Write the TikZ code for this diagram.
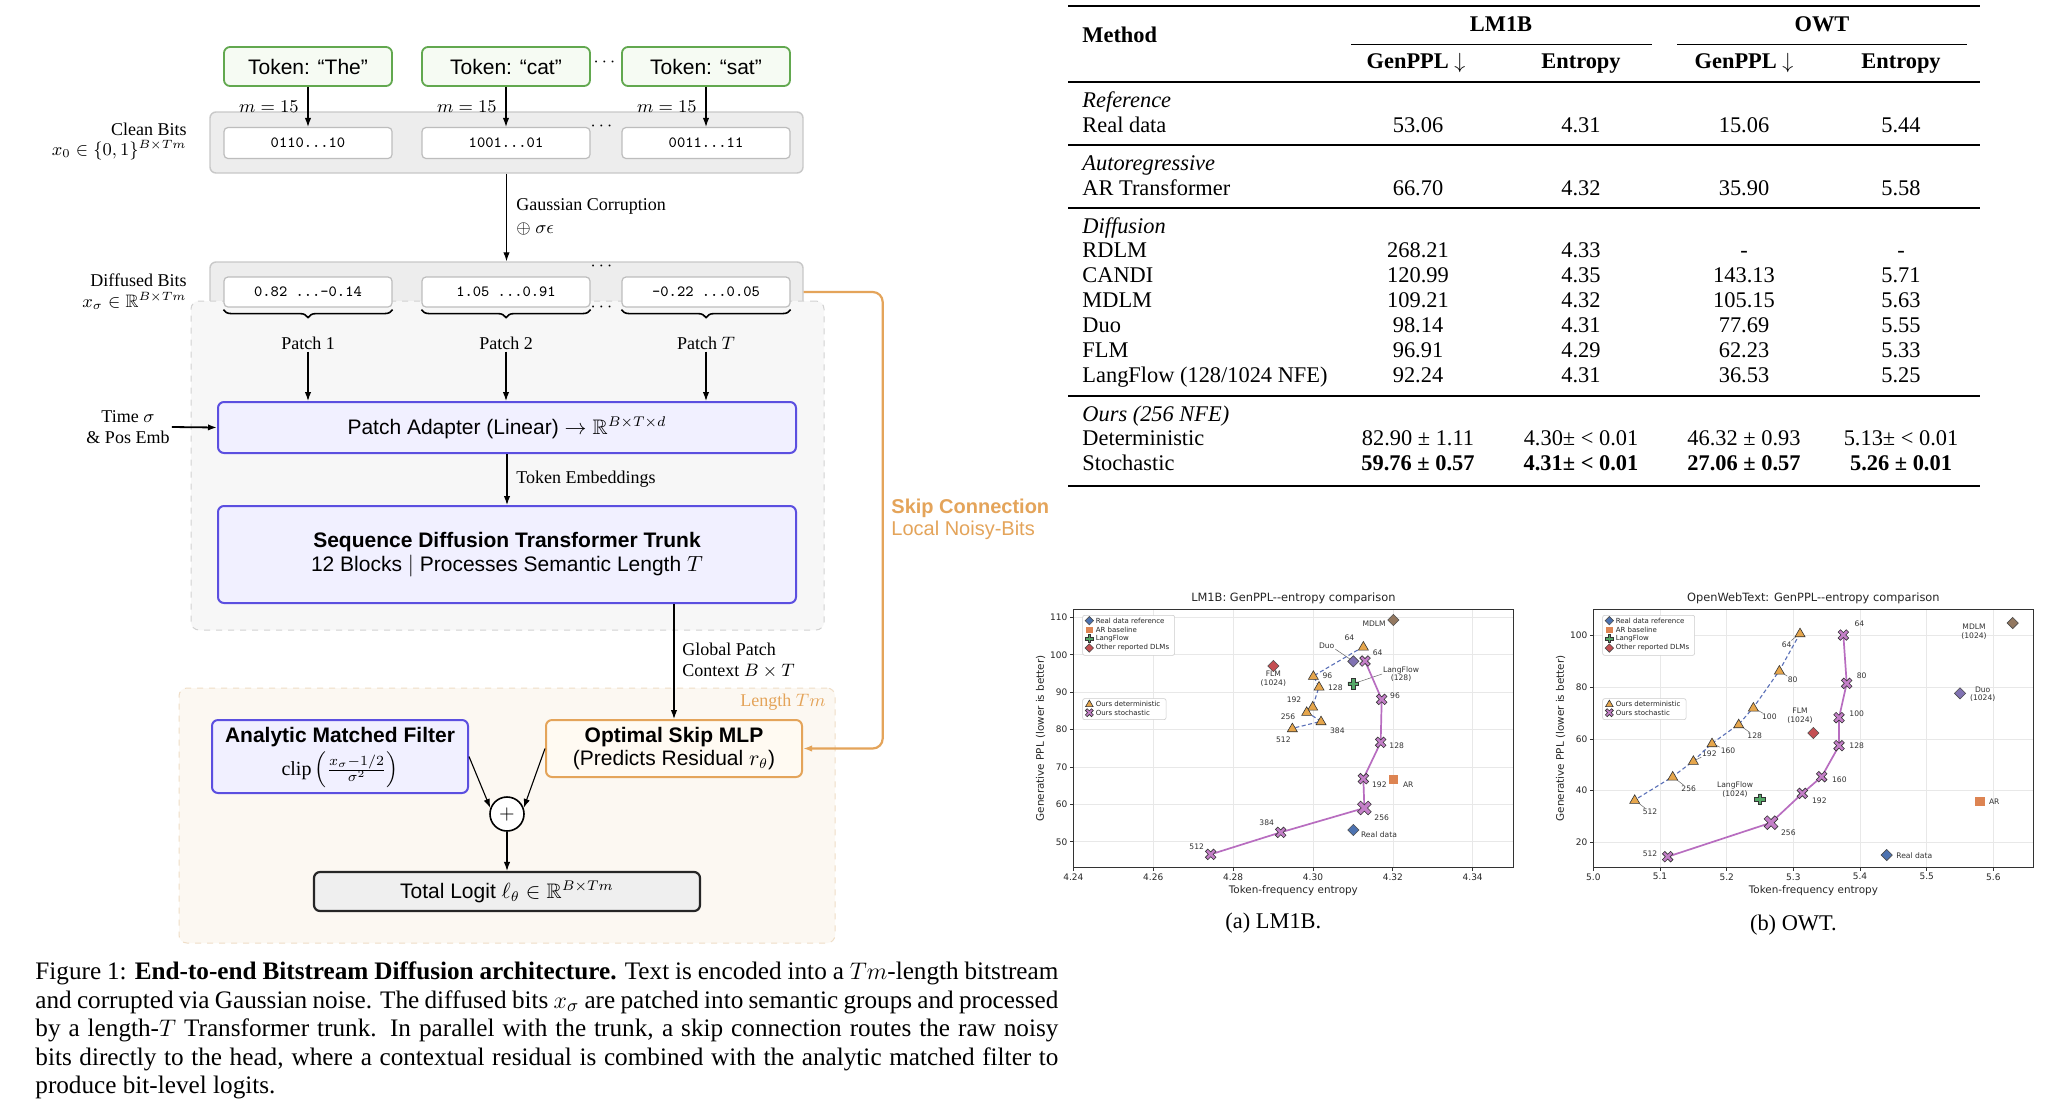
\documentclass[tikz,border=0pt]{standalone}
\usepackage{amsmath,amssymb}
\usepackage{fontspec}
\setmainfont{Liberation Serif}
\setsansfont{Liberation Sans}
\newfontfamily\plotfont{DejaVu Sans}
\usetikzlibrary{arrows.meta,decorations.pathreplacing,calc}

\definecolor{tokgreen}{HTML}{62A84F}
\definecolor{tokfill}{HTML}{F6FBF3}
\definecolor{purp}{HTML}{5B4FE0}
\definecolor{purpfill}{HTML}{F1F0FF}
\definecolor{orng}{HTML}{E4A45A}
\definecolor{orngfill}{HTML}{FFFAF2}
\definecolor{grayfill}{HTML}{EDEDED}
\definecolor{grayline}{HTML}{C8C8C8}
\definecolor{bitline}{HTML}{BDBDBD}
\definecolor{dashgray}{HTML}{D2D2D2}
\definecolor{panel1}{HTML}{F7F7F7}
\definecolor{panel2}{HTML}{FCF8F2}
\definecolor{panel2line}{HTML}{EFDDC6}
\definecolor{totfill}{HTML}{EFEFEF}
\definecolor{cReal}{HTML}{4C72B0}
\definecolor{cAR}{HTML}{DD8452}
\definecolor{cLF}{HTML}{55A868}
\definecolor{cFLM}{HTML}{C44E52}
\definecolor{cDuo}{HTML}{8172B3}
\definecolor{cMDLM}{HTML}{937860}
\definecolor{cTri}{HTML}{E6A64C}
\definecolor{cX}{HTML}{C47FC8}
\definecolor{cSline}{HTML}{B86DC0}
\definecolor{cDline}{HTML}{5A70B8}

\tikzset{
 arr/.style={-{Latex[length=4.5pt,width=3.2pt]}, line width=0.55pt},
 lbl/.style={font=\fontsize{9}{10.5}\selectfont, inner sep=1pt},
 sfbox/.style={font=\sffamily\fontsize{10.5}{11.5}\selectfont, inner sep=0pt, rounded corners=3pt},
 tokbox/.style={sfbox, draw=tokgreen, fill=tokfill, line width=0.9pt, minimum width=84pt, minimum height=19.5pt},
 graybox/.style={draw=grayline, fill=grayfill, line width=0.7pt, rounded corners=3pt, inner sep=0pt},
 bitbox/.style={draw=bitline, fill=white, line width=0.6pt, rounded corners=2pt, minimum width=84pt, minimum height=15.5pt, inner sep=0pt, font=\ttfamily\fontsize{7.8}{9}\selectfont},
 purpbox/.style={sfbox, draw=purp, fill=purpfill, line width=1pt, align=center},
 orngbox/.style={sfbox, draw=orng, fill=orngfill, line width=1pt, align=center},
 totbox/.style={sfbox, draw=black!85, fill=totfill, line width=1.1pt},
 panelA/.style={draw=dashgray, fill=panel1, dashed, line width=0.5pt, rounded corners=4pt, inner sep=0pt},
 panelB/.style={draw=panel2line, fill=panel2, dashed, line width=0.5pt, rounded corners=4pt, inner sep=0pt},
 bracestyle/.style={decorate, decoration={brace, mirror, amplitude=4pt}, line width=0.8pt},
 tabtxt/.style={font=\fontsize{11.2}{13}\selectfont, inner sep=0pt, text height=1.5ex, text depth=.25ex},
 capln/.style={font=\fontsize{12.6}{14}\selectfont, inner sep=0pt, text height=1.5ex, text depth=.25ex, anchor=west},
 ttl/.style={font=\plotfont\fontsize{5.7}{6.5}\selectfont, text=black!85, inner sep=0pt},
 axl/.style={font=\plotfont\fontsize{5.2}{6}\selectfont, text=black!85, inner sep=0pt},
 tkl/.style={font=\plotfont\fontsize{4.5}{5}\selectfont, text=black!85, inner sep=1pt},
 ann/.style={font=\plotfont\fontsize{3.8}{4.3}\selectfont, text=black!80, inner sep=0.3pt, align=center},
 legl/.style={font=\plotfont\fontsize{3.5}{4}\selectfont, text=black!85, inner sep=0pt, anchor=west},
 grd/.style={draw=black!9, line width=0.3pt},
 frm/.style={draw=black!80, line width=0.45pt},
 tck/.style={draw=black!80, line width=0.35pt},
 dline/.style={draw=cDline, line width=0.55pt, dash pattern=on 2pt off 1.3pt},
 sline/.style={draw=cSline, line width=0.85pt},
 lead/.style={draw=black!60, line width=0.25pt},
 legbox/.style={draw=black!20, fill=white, line width=0.3pt, rounded corners=1pt, inner sep=0pt},
 pics/dmd/.style={code={\path[fill=#1, draw=black!70, line width=0.3pt] (0pt,2.8pt) -- (2.8pt,0pt) -- (0pt,-2.8pt) -- (-2.8pt,0pt) -- cycle;}},
 pics/sqr/.style={code={\path[fill=cAR] (-2.3pt,-2.3pt) rectangle (2.3pt,2.3pt);}},
 pics/tri/.style={code={\path[fill=cTri, draw=black!80, line width=0.3pt] (0pt,2.6pt) -- (2.5pt,-1.7pt) -- (-2.5pt,-1.7pt) -- cycle;}},
 pics/xmk/.style={code={\path[fill=cX, draw=black!80, line width=0.3pt, rotate=45] (0.85pt,2.9pt) -- (0.85pt,0.85pt) -- (2.9pt,0.85pt) -- (2.9pt,-0.85pt) -- (0.85pt,-0.85pt) -- (0.85pt,-2.9pt) -- (-0.85pt,-2.9pt) -- (-0.85pt,-0.85pt) -- (-2.9pt,-0.85pt) -- (-2.9pt,0.85pt) -- (-0.85pt,0.85pt) -- (-0.85pt,2.9pt) -- cycle;}},
 pics/pls/.style={code={\path[fill=cLF, draw=black!80, line width=0.3pt] (0.85pt,2.7pt) -- (0.85pt,0.85pt) -- (2.7pt,0.85pt) -- (2.7pt,-0.85pt) -- (0.85pt,-0.85pt) -- (0.85pt,-2.7pt) -- (-0.85pt,-2.7pt) -- (-0.85pt,-0.85pt) -- (-2.7pt,-0.85pt) -- (-2.7pt,0.85pt) -- (-0.85pt,0.85pt) -- (-0.85pt,2.7pt) -- cycle;}},
}

\newcommand\trow[6]{%
 \node[tabtxt,anchor=west] (tm#1) at (1082,#1) {#2};
 \node[tabtxt] (ta#1) at (1418,#1) {#3};
 \node[tabtxt] (tb#1) at (1581,#1) {#4};
 \node[tabtxt] (tc#1) at (1744,#1) {#5};
 \node[tabtxt] (td#1) at (1901,#1) {#6};}

\newcommand\pltlegend[1]{%
 \node[legbox, minimum width=46pt, minimum height=20pt, anchor=north west] (#1leg) at (187,105) {};
 \pic[scale=0.75] at (208,122) {dmd=cReal}; \node[legl] (#1l1) at (226,122) {Real data reference};
 \pic[scale=0.75] at (208,150) {sqr}; \node[legl] (#1l2) at (226,150) {AR baseline};
 \pic[scale=0.75] at (208,176) {pls}; \node[legl] (#1l3) at (226,176) {LangFlow};
 \pic[scale=0.75] at (208,204) {dmd=cFLM}; \node[legl] (#1l4) at (226,204) {Other reported DLMs};
 \node[legbox, minimum width=41.7pt, minimum height=10.5pt, anchor=north west] (#1legb) at (187,355) {};
 \pic[scale=0.75] at (208,372) {tri}; \node[legl] (#1l5) at (226,372) {Ours deterministic};
 \pic[scale=0.75] at (208,398) {xmk}; \node[legl] (#1l6) at (226,398) {Ours stochastic};}

\begin{document}
\begin{tikzpicture}[x=0.5pt,y=-0.5pt]
\fill[white] (0,0) rectangle (2048,1115);
\useasboundingbox (0,0) rectangle (2048,1115);

%% ---------------- architecture diagram ----------------
\node[tokbox] (tok1) at (308,66.5) {Token: “The”};
\node[tokbox] (tok2) at (506,66.5) {Token: “cat”};
\node[tokbox] (tok3) at (706,66.5) {Token: “sat”};
\node[lbl] (tdots) at (606,62) {$\cdots$};

\node[graybox, minimum width=296.5pt, minimum height=30.5pt] (clean) at (506.5,142.5) {};
\node[bitbox] (c1) at (308,143) {0110...10};
\node[bitbox] (c2) at (506,143) {1001...01};
\node[bitbox] (c3) at (706,143) {0011...11};
\node[lbl] (cdots) at (603,126) {$\cdots$};
\node[lbl, anchor=east] (m1) at (301,107) {$m=15$};
\node[lbl, anchor=east] (m2) at (499,107) {$m=15$};
\node[lbl, anchor=east] (m3) at (699,107) {$m=15$};
\draw[arr] (tok1.south) -- (c1.north);
\draw[arr] (tok2.south) -- (c2.north);
\draw[arr] (tok3.south) -- (c3.north);
\node[lbl, anchor=east] (cbl) at (189,129) {Clean Bits};
\node[lbl, anchor=east] (cbm) at (189,150) {$x_0\in\{0,1\}^{B\times Tm}$};

\node[graybox, minimum width=296.5pt, minimum height=30pt] (diff) at (506.5,292) {};
\draw[arr] (clean.south) -- (diff.north);
\node[lbl, anchor=west] (gc1) at (514,206) {Gaussian Corruption};
\node[lbl, anchor=west] (gc2) at (514,229) {$\oplus\ \sigma\epsilon$};
\node[lbl] (ddots1) at (603,266) {$\cdots$};
\node[lbl, anchor=east] (dbl) at (189,280) {Diffused Bits};
\node[lbl, anchor=east] (dbm) at (189,301) {$x_\sigma\in\mathbb{R}^{B\times Tm}$};

\node[panelA, minimum width=316.5pt, minimum height=164.5pt] (pan1) at (507.5,465.5) {};
\node[bitbox, minimum height=15pt] (d1) at (308,292) {0.82 ...-0.14};
\node[bitbox, minimum height=15pt] (d2) at (506,292) {1.05 ...0.91};
\node[bitbox, minimum height=15pt] (d3) at (706,292) {-0.22 ...0.05};
\node[lbl] (ddots2) at (603,307) {$\cdots$};
\draw[bracestyle] ([yshift=-1pt]d1.south west) -- ([yshift=-1pt]d1.south east);
\draw[bracestyle] ([yshift=-1pt]d2.south west) -- ([yshift=-1pt]d2.south east);
\draw[bracestyle] ([yshift=-1pt]d3.south west) -- ([yshift=-1pt]d3.south east);
\node[lbl] (p1) at (308,343) {Patch 1};
\node[lbl] (p2) at (506,343) {Patch 2};
\node[lbl] (p3) at (706,343) {Patch $T$};

\node[purpbox, minimum width=289pt, minimum height=25.5pt] (adapt) at (507,427.5) {Patch Adapter (Linear) $\rightarrow\mathbb{R}^{B\times T\times d}$};
\draw[arr] (p1.south) -- (p1.south |- adapt.north);
\draw[arr] (p2.south) -- (p2.south |- adapt.north);
\draw[arr] (p3.south) -- (p3.south |- adapt.north);
\node[lbl, align=center] (time) at (128,427) {Time $\sigma$\\\& Pos Emb};
\draw[arr, line width=0.9pt] (time.east) -- (adapt.west);

\node[purpbox, minimum width=289pt, minimum height=48.5pt] (trunk) at (507,554.5) {\textbf{Sequence Diffusion Transformer Trunk}\\[0.5pt]12 Blocks $|$ Processes Semantic Length $T$};
\draw[arr] (adapt.south) -- (trunk.north);
\node[lbl, anchor=west] (temb) at (514,479) {Token Embeddings};

\node[panelB, minimum width=328pt, minimum height=127.5pt] (pan2) at (507,815.5) {};
\node[lbl, anchor=east, text=orng] (len) at (828,702) {Length $Tm$};

\node[purpbox, minimum width=128pt, minimum height=36.5pt] (amf) at (340,756.5) {};
\node[font=\sffamily\bfseries\fontsize{10.5}{11.5}\selectfont, inner sep=0pt] (amft) at (340,737) {Analytic Matched Filter};
\node[inner sep=0pt, font=\fontsize{10}{11}\selectfont] (amfc) at (340,770) {$\mathrm{clip}\left(\frac{x_\sigma-1/2}{\sigma^2}\right)$};
\node[orngbox, minimum width=128pt, minimum height=28.5pt] (skip) at (674,748.5) {\textbf{Optimal Skip MLP}\\(Predicts Residual $r_\theta$)};
\draw[arr] (trunk.south -| skip.north) -- (skip.north);
\node[lbl, anchor=west, align=left] (gp) at (680,661) {Global Patch\\Context $B\times T$};

\node[circle, draw, fill=white, line width=0.8pt, minimum size=17pt, inner sep=0pt] (plus) at (507,814) {$+$};
\draw[arr] (amf.east) -- (plus.160);
\draw[arr] (skip.west) -- (plus.20);
\node[totbox, minimum width=193pt, minimum height=19.5pt] (total) at (507,891.5) {Total Logit $\ell_\theta\in\mathbb{R}^{B\times Tm}$};
\draw[arr] (plus.south) -- (total.north);

\draw[orng, line width=1.1pt, rounded corners=5pt, -{Latex[length=4.5pt,width=3.2pt]}] (diff.east) -- ++(79,0) |- (skip.east);
\node[anchor=west, font=\sffamily\bfseries\fontsize{10}{11}\selectfont, text=orng, inner sep=0pt] (sc1) at (891,508) {Skip Connection};
\node[anchor=west, font=\sffamily\fontsize{10}{11}\selectfont, text=orng, inner sep=0pt] (sc2) at (891,530) {Local Noisy-Bits};

%% ---------------- caption ----------------
\node[capln] (cl1) at (35,974) {\makebox[511.5pt][s]{Figure 1: \textbf{End-to-end Bitstream Diffusion architecture.} Text is encoded into a $Tm$-length bitstream}};
\node[capln] (cl2) at (35,1002.5) {\makebox[511.5pt][s]{and corrupted via Gaussian noise. The diffused bits $x_\sigma$ are patched into semantic groups and processed}};
\node[capln] (cl3) at (35,1031) {\makebox[511.5pt][s]{by a length-$T$ Transformer trunk. In parallel with the trunk, a skip connection routes the raw noisy}};
\node[capln] (cl4) at (35,1059.5) {\makebox[511.5pt][s]{bits directly to the head, where a contextual residual is combined with the analytic matched filter to}};
\node[capln] (cl5) at (35,1088) {produce bit-level logits.};

%% ---------------- table ----------------
\draw[line width=1pt] (1068,6) -- (1980,6);
\node[tabtxt, anchor=west] (hM) at (1082,37) {\textbf{Method}};
\node[tabtxt] (hL) at (1501,26) {\textbf{LM1B}};
\node[tabtxt] (hO) at (1822,26) {\textbf{OWT}};
\draw[line width=0.45pt] (1351,44) -- (1652,44);
\draw[line width=0.45pt] (1677,44) -- (1967,44);
\node[tabtxt] (h1) at (1416,63) {\textbf{GenPPL $\downarrow$}};
\node[tabtxt] (h2) at (1581,63) {\textbf{Entropy}};
\node[tabtxt] (h3) at (1744,63) {\textbf{GenPPL $\downarrow$}};
\node[tabtxt] (h4) at (1901,63) {\textbf{Entropy}};
\draw[line width=0.6pt] (1068,82) -- (1980,82);
\node[tabtxt, anchor=west] (gRef) at (1082,102) {\textit{Reference}};
\trow{127}{Real data}{53.06}{4.31}{15.06}{5.44}
\draw[line width=0.6pt] (1068,145) -- (1980,145);
\node[tabtxt, anchor=west] (gAR) at (1082,165) {\textit{Autoregressive}};
\trow{190}{AR Transformer}{66.70}{4.32}{35.90}{5.58}
\draw[line width=0.6pt] (1068,208) -- (1980,208);
\node[tabtxt, anchor=west] (gDiff) at (1082,228) {\textit{Diffusion}};
\trow{252}{RDLM}{268.21}{4.33}{-}{-}
\trow{277}{CANDI}{120.99}{4.35}{143.13}{5.71}
\trow{302}{MDLM}{109.21}{4.32}{105.15}{5.63}
\trow{327}{Duo}{98.14}{4.31}{77.69}{5.55}
\trow{352}{FLM}{96.91}{4.29}{62.23}{5.33}
\trow{377}{LangFlow (128/1024 NFE)}{92.24}{4.31}{36.53}{5.25}
\draw[line width=0.6pt] (1068,396) -- (1980,396);
\node[tabtxt, anchor=west] (gOurs) at (1082,416) {\textit{Ours (256 NFE)}};
\trow{440}{Deterministic}{82.90 ± 1.11}{4.30± < 0.01}{46.32 ± 0.93}{5.13± < 0.01}
\trow{465}{Stochastic}{\textbf{59.76 ± 0.57}}{\textbf{4.31± < 0.01}}{\textbf{27.06 ± 0.57}}{\textbf{5.26 ± 0.01}}
\draw[line width=1pt] (1068,486) -- (1980,486);

%% ---------------- plot (a) LM1B ----------------
\begin{scope}[shift={(1020,580)}, x=0.166667pt, y=-0.166667pt]
 \foreach \x in {399.6,639.2,878.8,1118.4,1358} \draw[grd] (\x,88) -- (\x,862);
 \foreach \y in {112,224.2,336.4,448.6,560.8,673,785.2} \draw[grd] (160,\y) -- (1480,\y);
 \draw[frm] (160,88) rectangle (1480,862);
 \foreach \x/\t [count=\i] in {160/4.24,399.6/4.26,639.2/4.28,878.8/4.30,1118.4/4.32,1358/4.34}
   {\draw[tck] (\x,862) -- (\x,873); \node[tkl, anchor=north] (ax\i) at (\x,873) {\t};}
 \foreach \y/\t [count=\i] in {112/110,224.2/100,336.4/90,448.6/80,560.8/70,673/60,785.2/50}
   {\draw[tck] (160,\y) -- (149,\y); \node[tkl, anchor=east] (ay\i) at (149,\y) {\t};}
 \node[ttl] (tA) at (820,55) {LM1B: GenPPL--entropy comparison};
 \node[axl] (xA) at (820,932) {Token-frequency entropy};
 \node[axl, rotate=90] (yA) at (62,475) {Generative PPL (lower is better)};
 \node[font=\fontsize{11.2}{13}\selectfont, inner sep=0pt] (capA) at (760,1030) {(a) LM1B.};
 \pltlegend{A}
 \foreach \n/\x/\y in {64/1030/200,96/880/288,128/897/320,192/878/380,256/860/396,384/903/424,512/817/445}
   \coordinate (aT\n) at (\x,\y);
 \foreach \n/\x/\y in {64/1035/243,96/1085/358,128/1082/487,192/1030/596,256/1033/684,384/782/757,512/572/823}
   \coordinate (aS\n) at (\x,\y);
 \coordinate (aMDLM) at (1120,120);
 \coordinate (aDuo) at (1000,244);
 \coordinate (aLF) at (1000,311);
 \coordinate (aFLM) at (760,258);
 \coordinate (aAR) at (1120,598);
 \coordinate (aReal) at (1000,750);
 \node[ann, anchor=east] (laMDLM) at (1100,132) {MDLM};
 \node[ann] (laDuo) at (920,196) {Duo};
 \node[ann] (laLF) at (1143,282) {LangFlow\\(128)};
 \node[ann] (laFLM) at (760,296) {FLM\\(1024)};
 \node[ann, anchor=west] (laAR) at (1146,614) {AR};
 \node[ann, anchor=west] (laReal) at (1020,765) {Real data};
 \draw[lead] (laDuo.south east) -- (aDuo);
 \draw[lead] (laLF.west) -- (aLF);
 \draw[dline] (aT64) -- (aT96) -- (aT128) -- (aT192) -- (aT256) -- (aT384) -- (aT512);
 \draw[sline] (aS64) -- (aS96) -- (aS128) -- (aS192) -- (aS256) -- (aS384) -- (aS512);
 \foreach \n/\x/\y in {64/988/172,96/922/288,128/946/324,192/822/360,256/804/411,384/952/453,512/790/478}
   \node[ann] (laT\n) at (\x,\y) {\n};
 \foreach \n/\x/\y in {64/1073/217,96/1125/348,128/1130/498,192/1078/615,256/1085/714,384/740/727,512/530/800}
   \node[ann] (laS\n) at (\x,\y) {\n};
 \pic at (aMDLM) {dmd=cMDLM};
 \pic at (aFLM) {dmd=cFLM};
 \pic at (aDuo) {dmd=cDuo};
 \pic at (aLF) {pls};
 \pic at (aAR) {sqr};
 \pic at (aReal) {dmd=cReal};
 \foreach \n in {64,96,128,192,256,384,512} \pic at (aT\n) {tri};
 \foreach \n in {64,96,128,192,384,512} \pic at (aS\n) {xmk};
 \pic[scale=1.3] at (aS256) {xmk};
\end{scope}

%% ---------------- plot (b) OWT ----------------
\begin{scope}[shift={(1540,580)}, x=0.166667pt, y=-0.166667pt]
 \foreach \x in {360,560,760,960,1160,1360} \draw[grd] (\x,88) -- (\x,862);
 \foreach \y in {167,322,477,632,787} \draw[grd] (160,\y) -- (1480,\y);
 \draw[frm] (160,88) rectangle (1480,862);
 \foreach \x/\t [count=\i] in {160/5.0,360/5.1,560/5.2,760/5.3,960/5.4,1160/5.5,1360/5.6}
   {\draw[tck] (\x,862) -- (\x,873); \node[tkl, anchor=north] (bx\i) at (\x,873) {\t};}
 \foreach \y/\t [count=\i] in {167/100,322/80,477/60,632/40,787/20}
   {\draw[tck] (160,\y) -- (149,\y); \node[tkl, anchor=east] (by\i) at (149,\y) {\t};}
 \node[ttl] (tB) at (820,55) {OpenWebText: GenPPL--entropy comparison};
 \node[axl] (xB) at (820,932) {Token-frequency entropy};
 \node[axl, rotate=90] (yB) at (62,475) {Generative PPL (lower is better)};
 \node[font=\fontsize{11.2}{13}\selectfont, inner sep=0pt] (capB) at (760,1035) {(b) OWT.};
 \pltlegend{B}
 \foreach \n/\x/\y in {64/780/160,80/718/272,100/640/383,128/596/433,160/516/490,192/460/543,256/398/590,512/284/660}
   \coordinate (bT\n) at (\x,\y);
 \foreach \n/\x/\y in {64/910/165,80/920/310,100/897/413,128/897/497,160/845/590,192/787/640,256/693/728,512/383/830}
   \coordinate (bS\n) at (\x,\y);
 \coordinate (bMDLM) at (1418,129);
 \coordinate (bDuo) at (1260,340);
 \coordinate (bFLM) at (820,459);
 \coordinate (bLF) at (660,658);
 \coordinate (bAR) at (1320,665);
 \coordinate (bReal) at (1040,825);
 \node[ann] (lbMDLM) at (1302,155) {MDLM\\(1024)};
 \node[ann] (lbDuo) at (1328,343) {Duo\\(1024)};
 \node[ann] (lbFLM) at (780,408) {FLM\\(1024)};
 \node[ann] (lbLF) at (585,628) {LangFlow\\(1024)};
 \node[ann, anchor=west] (lbAR) at (1344,666) {AR};
 \node[ann, anchor=west] (lbReal) at (1066,828) {Real data};
 \foreach \n/\x/\y in {64/740/193,80/758/300,100/688/411,128/644/468,160/564/513,192/508/520,256/446/627,512/330/696}
   \node[ann] (lbT\n) at (\x,\y) {\n};
 \foreach \n in {64,80,100,128,160,192,256,512} \draw[lead] (lbT\n) -- (bT\n);
 \foreach \n/\x/\y in {64/958/131,80/965/287,100/950/401,128/950/497,160/898/598,192/838/661,256/745/758,512/330/822}
   \node[ann] (lbS\n) at (\x,\y) {\n};
 \draw[dline] (bT64) -- (bT80) -- (bT100) -- (bT128) -- (bT160) -- (bT192) -- (bT256) -- (bT512);
 \draw[sline] (bS64) -- (bS80) -- (bS100) -- (bS128) -- (bS160) -- (bS192) -- (bS256) -- (bS512);
 \pic at (bMDLM) {dmd=cMDLM};
 \pic at (bDuo) {dmd=cDuo};
 \pic at (bFLM) {dmd=cFLM};
 \pic at (bLF) {pls};
 \pic at (bAR) {sqr};
 \pic at (bReal) {dmd=cReal};
 \foreach \n in {64,80,100,128,160,192,256,512} \pic at (bT\n) {tri};
 \foreach \n in {64,80,100,128,160,192,512} \pic at (bS\n) {xmk};
 \pic[scale=1.3] at (bS256) {xmk};
\end{scope}
\end{tikzpicture}
\end{document}
